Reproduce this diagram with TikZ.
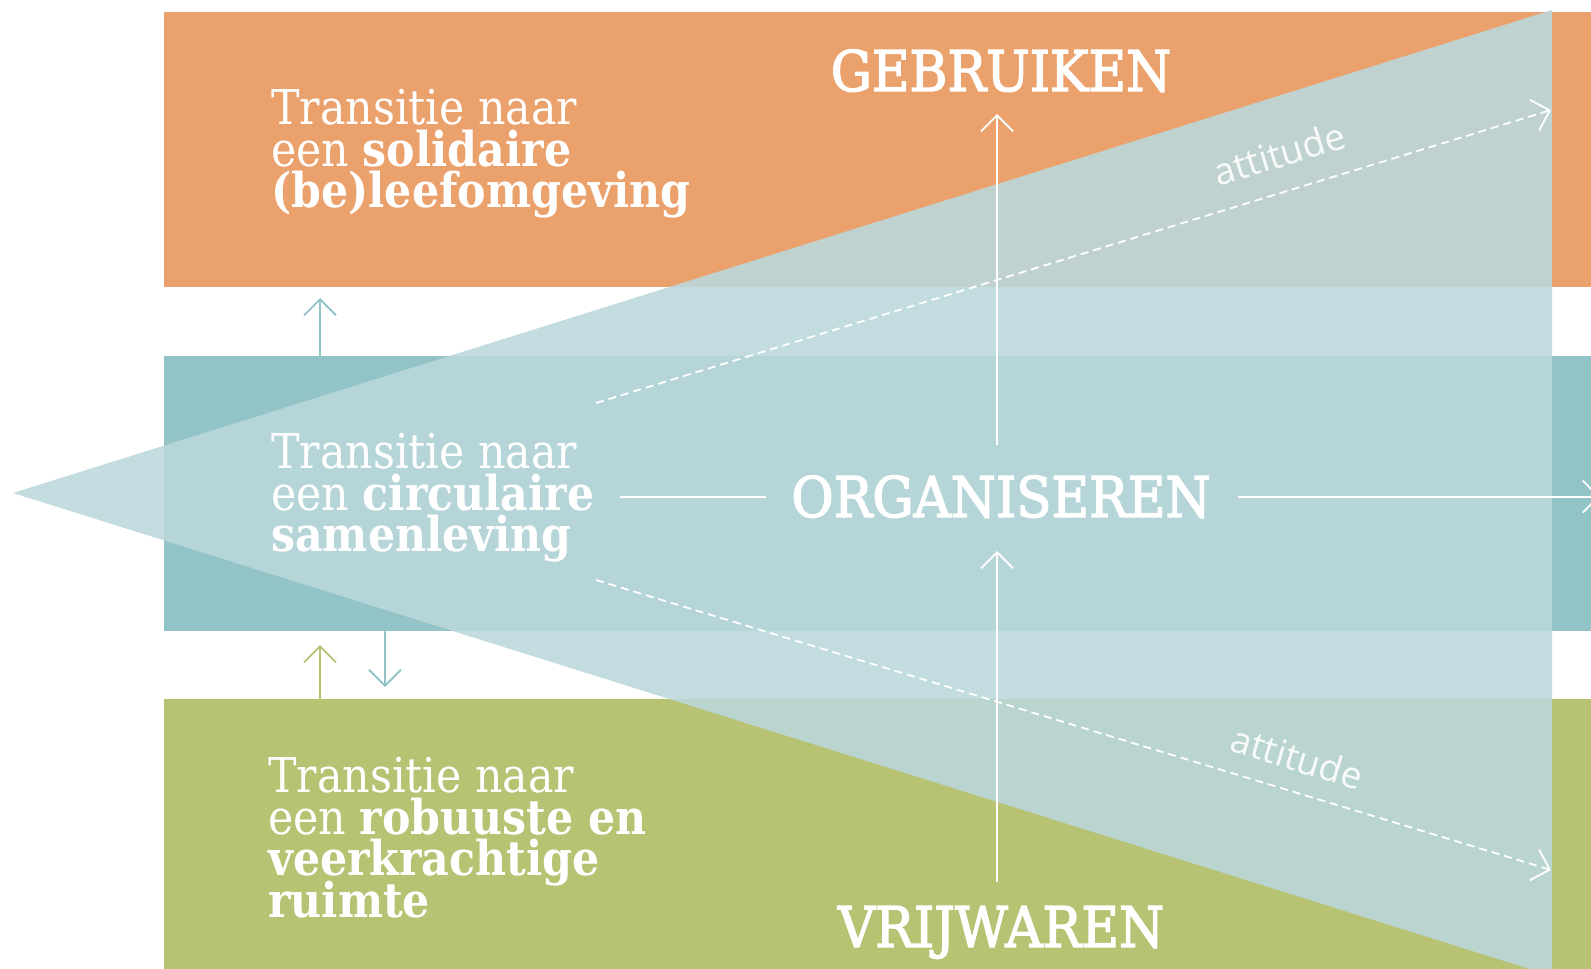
\documentclass[tikz,border=0pt]{standalone}
\usepackage{fontspec}
\setmainfont{DejaVu Serif}
\newfontfamily\slabfont[FakeStretch=0.89]{DejaVu Serif}
\newfontfamily\kopfont[FakeStretch=0.92,FakeBold=2.5]{DejaVu Serif}
\newfontfamily\attfont{Open Sans}
\newcommand\transitiefont{\slabfont\fontsize{48}{41.5}\selectfont\setlength{\lineskiplimit}{-40pt}}
\usetikzlibrary{calc,positioning,arrows.meta}
\definecolor{oranje}{RGB}{235,161,107}
\definecolor{blauwgroen}{RGB}{146,195,199}
\definecolor{olijf}{RGB}{183,194,115}
\definecolor{driehoek}{RGB}{187,216,219}
\tikzset{
  >={Straight Barb[length=16pt,width=32pt]},
  band/.style={
    rectangle,
    anchor=north west,
    inner sep=0pt,
    minimum width=1440pt,
    minimum height=275pt},
  transitie/.style={
    anchor=north west,
    inner sep=0pt,
    text=white,
    align=left,
    font=\transitiefont},
  kop/.style={
    anchor=base,
    inner sep=0pt,
    text=white,
    font=\kopfont\fontsize{56}{56}\selectfont},
  pijl/.style={draw=white, line width=1.8pt, ->},
  lijn/.style={draw=white, line width=1.8pt},
  stippel/.style={draw=white, line width=1.8pt, dash pattern=on 8pt off 5pt, ->},
  klein/.style={line width=1.8pt, ->},
  attlabel/.style={sloped, inner sep=0pt, text=white, text opacity=0.9,
    font=\attfont\fontsize{37}{37}\selectfont},
}

\begin{document}
\begin{tikzpicture}[x=1pt, y=-1pt]
  \useasboundingbox (0,0) rectangle (1591,969);
  % banden
  \node[band, fill=oranje] (SolidairBand) at (164,12) {};
  \node[band, fill=blauwgroen] (CirculairBand) at (164,356) {};
  \node[band, fill=olijf, minimum height=280pt] (RobuustBand) at (164,699) {};

  % pijltjes tussen de banden
  \coordinate (BlauwOp) at (320,298);
  \coordinate (BlauwNeer) at (385,687);
  \coordinate (OlijfOp) at (320,645);
  \draw[klein, blauwgroen] (CirculairBand.north -| BlauwOp) -- (BlauwOp);
  \draw[klein, blauwgroen] (CirculairBand.south -| BlauwNeer) -- (BlauwNeer);
  \draw[klein, olijf] (RobuustBand.north -| OlijfOp) -- (OlijfOp);

  % driehoek
  \fill[driehoek, opacity=0.9] (13,493) -- (1552,10) -- (1552,976) -- cycle;

  \node[transitie] (Solidair) at (271,89)
    {Transitie naar\\een \textbf{solidaire}\\\textbf{(be)leefomgeving}};
  \node[transitie] (Circulair) at (271,433)
    {Transitie naar\\een \textbf{circulaire}\\\textbf{samenleving}};
  \node[transitie] (Robuust) at (268,757)
    {Transitie naar\\een \textbf{robuuste en}\\\textbf{veerkrachtige}\\\textbf{ruimte}};

  \node[kop] (Gebruiken) at (1001,91) {GEBRUIKEN};
  \node[kop] (Organiseren) at (1001,517) {ORGANISEREN};
  \node[kop] (Vrijwaren) at (1001,947) {VRIJWAREN};

  \draw[pijl, shorten <=30pt, shorten >=22pt]
    ([xshift=-4pt]Organiseren.north) -- ([xshift=-4pt]Gebruiken.south);
  \draw[pijl, shorten <=24pt, shorten >=33pt]
    ([xshift=-4pt]Vrijwaren.north) -- ([xshift=-4pt]Organiseren.south);

  \coordinate (Rand) at (1600,0);
  \draw[lijn, shorten <=25pt, shorten >=25pt]
    (Circulair.east |- Organiseren.west) -- (Organiseren.west);
  \draw[pijl, shorten <=27pt] (Organiseren.east) -- (Organiseren.east -| Rand);

  % attitude
  \coordinate (AttBovenStart) at (596,403);
  \coordinate (AttBovenEind) at (1551,110);
  \coordinate (AttOnderStart) at (596,580);
  \coordinate (AttOnderEind) at (1551,870);
  \draw[stippel] (AttBovenStart) -- node[attlabel, above=23pt, pos=0.727] (AttBoven) {attitude} (AttBovenEind);
  \draw[stippel] (AttOnderStart) -- node[attlabel, above=19pt, pos=0.724] (AttOnder) {attitude} (AttOnderEind);
\end{tikzpicture}
\end{document}
